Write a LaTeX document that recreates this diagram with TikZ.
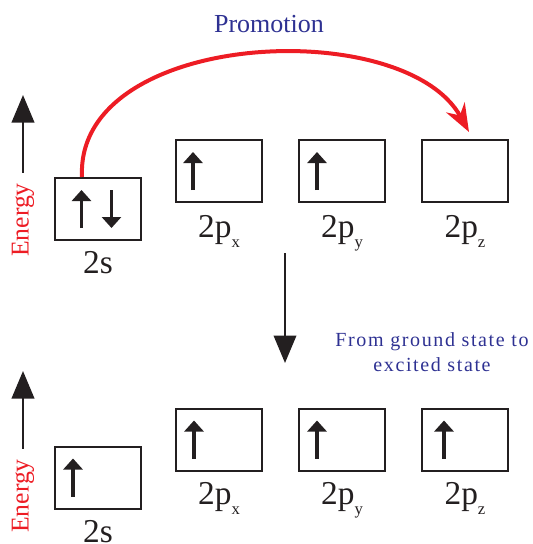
\documentclass[tikz,border=0pt]{standalone}
\usepackage{fontspec}
\setmainfont{Liberation Serif}
\usepackage{xcolor}
\usepackage{tikz}
\usetikzlibrary{positioning, arrows.meta}
\definecolor{promored}{HTML}{ED1C24}
\definecolor{labelblue}{HTML}{2E3192}
\definecolor{boxblack}{HTML}{231F20}
\newcommand{\orbsub}[1]{\raisebox{-0.2cm}{\fontsize{9.5}{10}\selectfont #1}}

\begin{document}
\begin{tikzpicture}[
    orbbox/.style={rectangle, draw=boxblack, line width=0.04cm,
      minimum width=1.72cm, minimum height=1.24cm, inner sep=0pt},
    orblab/.style={font=\fontsize{19}{22}\selectfont, inner sep=0pt, text=boxblack},
    spin/.style={draw=boxblack, line width=0.07cm, -{Triangle[length=0.22cm, width=0.38cm]}},
    energylab/.style={rotate=90, inner sep=0pt, text=promored, font=\fontsize{14.6}{17}\selectfont},
    bigarrow/.style={draw=boxblack, line width=0.045cm, -{Triangle[length=0.55cm, width=0.45cm]}},
    promarrow/.style={draw=promored, line width=0.08cm, -{Stealth[length=0.56cm, width=0.42cm]}}
  ]
  \useasboundingbox (0,0) rectangle (10.66,-10.88);
  % Ground state
  \node[orbbox] (sa) at (1.96,-4.18) {};
  \node[orbbox] (pxa) at (4.38,-3.42) {};
  \node[orbbox, right=0.7cm of pxa] (pya) {};
  \node[orbbox, right=0.7cm of pya] (pza) {};
  \node[orblab, below=0.2cm of sa] (sla) {2s};
  \node[orblab, below=0.24cm of pxa] (pxla) {2p\orbsub{x}};
  \node[orblab, below=0.24cm of pya] (pyla) {2p\orbsub{y}};
  \node[orblab, below=0.24cm of pza] (pzla) {2p\orbsub{z}};
  \draw[spin] ([xshift=-0.33cm, yshift=-0.38cm]sa.center) -- ++(0,0.76);
  \draw[spin] ([xshift=0.27cm, yshift=0.38cm]sa.center) -- ++(0,-0.76);
  \draw[spin] ([xshift=-0.52cm, yshift=-0.38cm]pxa.center) -- ++(0,0.76);
  \draw[spin] ([xshift=-0.5cm, yshift=-0.38cm]pya.center) -- ++(0,0.76);
  \node[energylab] (ena) at (0.46,-4.40) {Energy};
  \coordinate (enatop) at (0.46,-1.90);
  \draw[bigarrow] ([yshift=0.2cm]ena.east) -- (enatop);
  % Promotion
  \node[text=labelblue, font=\fontsize{14.8}{17}\selectfont, inner sep=0pt] (promo) at (5.38,-0.48) {Promotion};
  \coordinate (promstart) at ([xshift=-0.32cm]sa.north);
  \coordinate (promend) at ([xshift=0.08cm, yshift=0.14cm]pza.north);
  \draw[promarrow] (promstart) .. controls +(-0.14,2.94) and +(-1.30,2.36) .. (promend);
  % Ground -> excited
  \coordinate (stateup) at (5.70,-5.06);
  \coordinate (statedown) at (5.70,-7.26);
  \draw[bigarrow] (stateup) -- (statedown);
  \node[text=labelblue, align=center, inner sep=0pt,
    font=\fontsize{11.4}{14.2}\selectfont\addfontfeatures{LetterSpace=8}] (caption) at (8.64,-7.05)
    {From ground state to\\excited state};
  % Excited state
  \node[orbbox] (sb) at (1.96,-9.55) {};
  \node[orbbox] (pxb) at (4.38,-8.79) {};
  \node[orbbox, right=0.7cm of pxb] (pyb) {};
  \node[orbbox, right=0.7cm of pyb] (pzb) {};
  \node[orblab, below=0.22cm of sb] (slb) {2s};
  \node[orblab, below=0.22cm of pxb] (pxlb) {2p\orbsub{x}};
  \node[orblab, below=0.22cm of pyb] (pylb) {2p\orbsub{y}};
  \node[orblab, below=0.22cm of pzb] (pzlb) {2p\orbsub{z}};
  \draw[spin] ([xshift=-0.5cm, yshift=-0.38cm]sb.center) -- ++(0,0.76);
  \draw[spin] ([xshift=-0.5cm, yshift=-0.38cm]pxb.center) -- ++(0,0.76);
  \draw[spin] ([xshift=-0.5cm, yshift=-0.38cm]pyb.center) -- ++(0,0.76);
  \draw[spin] ([xshift=-0.42cm, yshift=-0.38cm]pzb.center) -- ++(0,0.76);
  \node[energylab] (enb) at (0.46,-9.92) {Energy};
  \coordinate (enbtop) at (0.46,-7.42);
  \draw[bigarrow] ([yshift=0.2cm]enb.east) -- (enbtop);
\end{tikzpicture}
\end{document}
